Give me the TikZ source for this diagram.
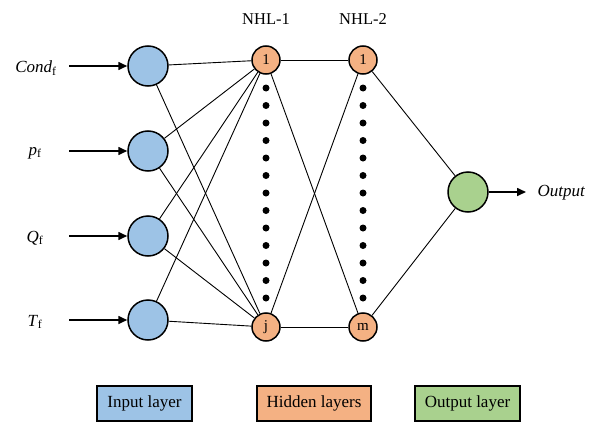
\documentclass[tikz,border=0pt]{standalone}
\usepackage{fontspec}
\setmainfont{Liberation Serif}
\usetikzlibrary{arrows.meta}
\definecolor{inblue}{RGB}{157,195,230}
\definecolor{hidor}{RGB}{244,177,131}
\definecolor{outgr}{RGB}{169,209,142}
\tikzset{
  inneur/.style={circle,draw=black,line width=1.5pt,fill=inblue,minimum size=40pt,inner sep=0pt},
  hidneur/.style={circle,draw=black,line width=1.5pt,fill=hidor,minimum size=28pt,inner sep=0pt,font=\fontsize{15}{17}\selectfont},
  outneur/.style={circle,draw=black,line width=1.5pt,fill=outgr,minimum size=40pt,inner sep=0pt},
  conn/.style={line width=0.9pt},
  inarrow/.style={line width=1.6pt,-{Triangle[length=9pt,width=8pt]}},
  lbl/.style={font=\fontsize{16.5}{19}\selectfont},
  legbox/.style={draw=black,line width=1.5pt,minimum height=35pt,inner sep=0pt,font=\fontsize{17}{20}\selectfont},
  dotmark/.style={circle,fill=black,minimum size=7pt,inner sep=0pt}
}
\begin{document}
\begin{tikzpicture}[x=1pt,y=-1pt]
\useasboundingbox (0,0) rectangle (592,423);
% input neurons
\node[inneur] (i1) at (148,66) {};
\node[inneur] (i2) at (148,151) {};
\node[inneur] (i3) at (148,236) {};
\node[inneur] (i4) at (148,320) {};
% labels
\node[lbl,font=\fontsize{17}{20}\selectfont] (l1) at (36,68) {\textit{Cond}\textsubscript{f}};
\node[lbl,font=\fontsize{17}{20}\selectfont] (l2) at (35,153) {\textit{p}\textsubscript{f}};
\node[lbl,font=\fontsize{17}{20}\selectfont] (l3) at (35,238) {\textit{Q}\textsubscript{f}};
\node[lbl,font=\fontsize{17}{20}\selectfont] (l4) at (35,322) {\textit{T}\textsubscript{f}};
\coordinate (s1) at (69,66);
\coordinate (s2) at (69,151);
\coordinate (s3) at (69,236);
\coordinate (s4) at (69,320);
% hidden
\node[hidneur] (h11) at (266,60) {1};
\node[hidneur] (h1j) at (266,327) {j};
\node[hidneur] (h21) at (363,60) {1};
\node[hidneur] (h2m) at (363,327) {m};
\node[lbl] (n1) at (266,19) {NHL-1};
\node[lbl] (n2) at (363,19) {NHL-2};
% output
\node[outneur] (o) at (468,192) {};
\coordinate (oe) at (526,192);
\node[lbl,anchor=west,font=\fontsize{17}{20}\selectfont] (ot) at (534,193) {\textit{Output}};
% dots
\foreach \k in {0,...,12} {
  \node[dotmark] (da\k) at (266,88+17.5*\k) {};
  \node[dotmark] (db\k) at (363,88+17.5*\k) {};
}
% connections
\foreach \i in {i1,i2,i3,i4} {
  \draw[conn] (\i) -- (h11);
  \draw[conn] (\i) -- (h1j);
}
\draw[conn] (h11) -- (h21);
\draw[conn] (h11) -- (h2m);
\draw[conn] (h1j) -- (h21);
\draw[conn] (h1j) -- (h2m);
\draw[conn] (h21) -- (o);
\draw[conn] (h2m) -- (o);
% arrows
\draw[inarrow] (s1) -- (i1);
\draw[inarrow] (s2) -- (i2);
\draw[inarrow] (s3) -- (i3);
\draw[inarrow] (s4) -- (i4);
\draw[inarrow] (o) -- (oe);
% legend
\node[legbox,fill=inblue,minimum width=95pt] (b1) at (144.5,403.5) {Input layer};
\node[legbox,fill=hidor,minimum width=114pt] (b2) at (314,403.5) {Hidden layers};
\node[legbox,fill=outgr,minimum width=105pt] (b3) at (467.5,403.5) {Output layer};
\end{tikzpicture}
\end{document}
